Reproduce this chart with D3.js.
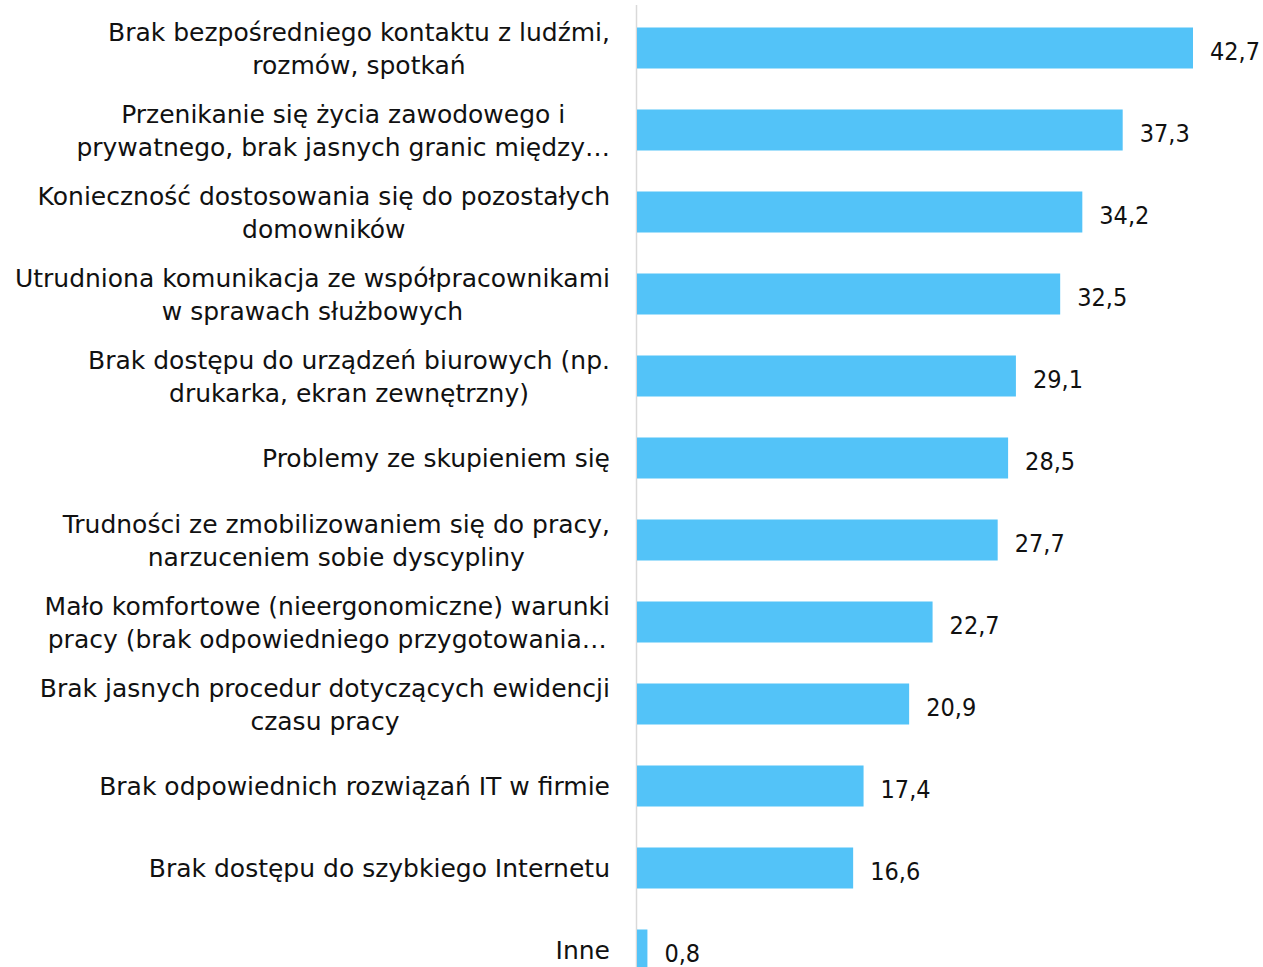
<!DOCTYPE html>
<html>
<head>
<meta charset="utf-8">
<script src="https://cdn.jsdelivr.net/npm/d3@7"></script>
<style>
  html, body { margin: 0; padding: 0; background: #fff; }
</style>
</head>
<body>
<svg id="chart" width="1263" height="967"></svg>
<script>
// kategorie (łamanie wierszy jak w oryginale)
var categories = [
    "Brak bezpośredniego kontaktu z ludźmi,\nrozmów, spotkań",
    "Przenikanie się życia zawodowego i\nprywatnego, brak jasnych granic między…",
    "Konieczność dostosowania się do pozostałych\ndomowników",
    "Utrudniona komunikacja ze współpracownikami\nw sprawach służbowych",
    "Brak dostępu do urządzeń biurowych (np.\ndrukarka, ekran zewnętrzny)",
    "Problemy ze skupieniem się",
    "Trudności ze zmobilizowaniem się do pracy,\nnarzuceniem sobie dyscypliny",
    "Mało komfortowe (nieergonomiczne) warunki\npracy (brak odpowiedniego przygotowania…",
    "Brak jasnych procedur dotyczących ewidencji\nczasu pracy",
    "Brak odpowiednich rozwiązań IT w firmie",
    "Brak dostępu do szybkiego Internetu",
    "Inne"
];
var values = [42.7, 37.3, 34.2, 32.5, 29.1, 28.5, 27.7, 22.7, 20.9, 17.4, 16.6, 0.8];

var svg = d3.select("#chart");
var axisX = 637;
var labelRight = 610;

var x = d3.scaleLinear()
    .domain([0, 42.7])
    .range([axisX, 1193]);

var y = d3.scaleBand()
    .domain(d3.range(categories.length))
    .range([7, 991])
    .paddingInner(0.5)
    .paddingOuter(0.25);

/* oś pionowa */
svg.append("line")
    .attr("x1", axisX - 0.5).attr("x2", axisX - 0.5)
    .attr("y1", 5).attr("y2", 967)
    .attr("stroke", "#d9d9d9")
    .attr("stroke-width", 1.5);

/* słupki */
svg.selectAll("rect.bar")
    .data(values)
    .enter()
    .append("rect")
    .attr("class", "bar")
    .attr("x", axisX)
    .attr("y", function(d, i) { return y(i); })
    .attr("width", function(d) { return x(d) - axisX; })
    .attr("height", y.bandwidth())
    .attr("fill", "#53C3F8");

/* wartości */
svg.selectAll("text.val")
    .data(values)
    .enter()
    .append("text")
    .attr("class", "val")
    .attr("x", function(d) { return x(d) + 17; })
    .attr("y", function(d, i) { return y(i) + y.bandwidth() / 2 + 12; })
    .attr("font-family", "'DejaVu Sans Condensed', 'DejaVu Sans', sans-serif")
    .attr("font-size", "25px")
    .attr("fill", "#111")
    .text(function(d) { return d3.format(".1f")(d).replace(".", ","); });

/* etykiety kategorii */
var labels = svg.selectAll("text.cat")
    .data(categories)
    .enter()
    .append("text")
    .attr("class", "cat")
    .attr("font-family", "'DejaVu Sans', sans-serif")
    .attr("font-size", "25px")
    .attr("fill", "#111")
    .each(function(d, i) {
        var lines = d.split("\n");
        var t = d3.select(this);
        var cy = y(i) + y.bandwidth() / 2;
        var lh = 33;
        var top = cy - (lines.length - 1) * lh / 2 + 9;
        lines.forEach(function(l, k) {
            t.append("tspan")
                .attr("y", top + k * lh)
                .attr("text-anchor", "middle")
                .text(l);
        });
    });

/* blok tekstu wyrównany do prawej, linie wyśrodkowane */
labels.each(function() {
    var tspans = d3.select(this).selectAll("tspan");
    var maxW = 0;
    tspans.each(function() { maxW = Math.max(maxW, this.getComputedTextLength()); });
    tspans.attr("x", labelRight - maxW / 2);
});
</script>
</body>
</html>
